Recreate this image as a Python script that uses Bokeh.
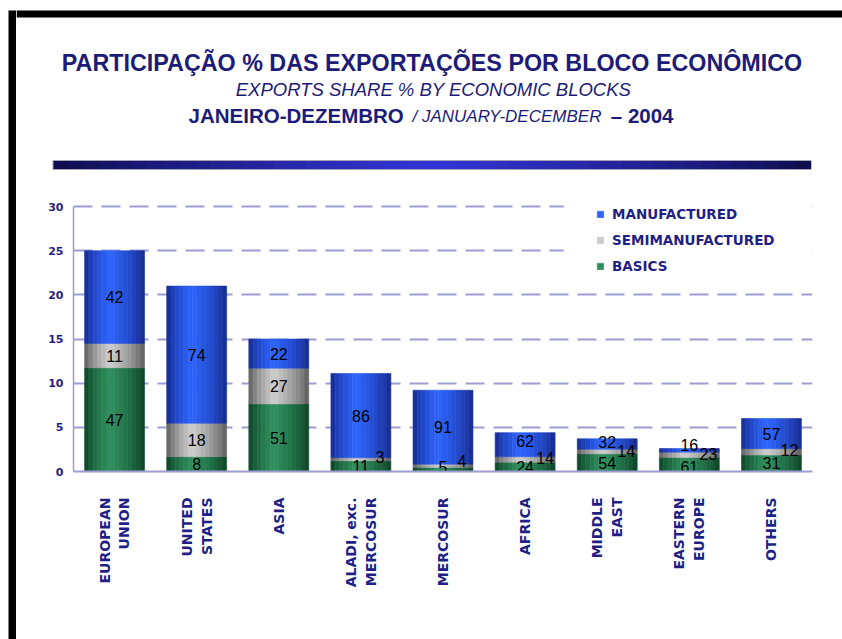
from math import pi
from bokeh.plotting import figure
from bokeh.layouts import column, row
from bokeh.models import (Range1d, Label, BoxAnnotation, Legend, LegendItem,
                          ColumnDataSource, FixedTicker)
from bokeh.transform import dodge
from bokeh.embed import file_html
from bokeh.resources import INLINE
from bokeh.core.properties import value

# ---------------- data ----------------
blocks = ["EUROPEAN UNION", "UNITED STATES", "ASIA", "ALADI, exc. MERCOSUR", "MERCOSUR",
          "AFRICA", "MIDDLE EAST", "EASTERN EUROPE", "OTHERS"]
tick_lines = [["EUROPEAN", "UNION"], ["UNITED", "STATES"], ["ASIA"], ["ALADI, exc.", "MERCOSUR"],
              ["MERCOSUR"], ["AFRICA"], ["MIDDLE", "EAST"], ["EASTERN", "EUROPE"], ["OTHERS"]]
total_share = [25.0, 21.0, 15.0, 11.1, 9.2, 4.4, 3.7, 2.6, 6.0]   # % of total exports
basics_pct = [47, 8, 51, 11, 5, 24, 54, 61, 31]
semi_pct = [11, 18, 27, 3, 4, 14, 14, 23, 12]
manuf_pct = [42, 74, 22, 86, 91, 62, 32, 16, 57]
series_names = ["MANUFACTURED", "SEMIMANUFACTURED", "BASICS"]
y_ticks = [0, 5, 10, 15, 20, 25, 30]

title1 = "PARTICIPAÇÃO % DAS EXPORTAÇÕES POR BLOCO ECONÔMICO"
title2 = "EXPORTS SHARE % BY ECONOMIC BLOCKS"
title3a = "JANEIRO-DEZEMBRO"
title3b = "/ JANUARY-DECEMBER"
title3c = "– 2004"

# ---------------- styles ----------------
NAVY = "#1c1c78"
AXIS_NAVY = "#1f1f86"
LAVENDER = "#9d9dd4"
FONT = "Liberation Sans"
TICK_FONT = "DejaVu Sans"
LINE_SEP = 0.24   # category units between the two lines of a tick label
# label nudges in pixels (x, y) per series, per block
nudge_basics = [(0, 0), (0, 0), (0, 0), (0, 0), (0, -2), (0, 0), (0, 0), (0, 3), (0, 0)]
nudge_semi = [(0, 0), (0, 0), (0, 0), (19, -2), (19, -5), (20, -1), (19, -1), (19, -1), (18, -2)]
nudge_manuf = [(0, 0), (0, 0), (0, 0), (0, 0), (0, 0), (0, -4), (0, -2), (0, -5), (0, 0)]

TOT_W, TOT_H = 842, 639
LEFT_W = 16                 # white margin + black slide edge
HEAD_H = 190
FOOT_H = 2
BODY_H = 446
FRAME_TOP, FRAME_BOTTOM = 203, 471      # absolute page px of the plot frame
BT = FRAME_TOP - HEAD_H
BB = HEAD_H + BODY_H - FRAME_BOTTOM
RIGHT_W = TOT_W - LEFT_W


def grad(edge, center, n, peak=0.42, gamma=0.7):
    cols = []
    for i in range(n):
        t = (i + 0.5) / n
        d = abs(t - peak) / (peak if t < peak else 1 - peak)
        k = max(0.0, 1 - d) ** gamma
        c = tuple(int(round(e + (cc - e) * k)) for e, cc in zip(edge, center))
        cols.append("#%02x%02x%02x" % c)
    return cols


def pixel_fig(w, hgt, x_start=0):
    f = figure(width=w, height=hgt, output_backend="svg", toolbar_location=None,
               x_range=Range1d(x_start, x_start + w), y_range=Range1d(hgt, 0),
               x_axis_type=None, y_axis_type=None)
    f.min_border_left = f.min_border_right = f.min_border_top = f.min_border_bottom = 0
    f.outline_line_color = None
    f.grid.visible = False
    f.background_fill_color = "white"
    f.border_fill_color = "white"
    return f


# ================= left slide edge (full height) =================
edge = pixel_fig(LEFT_W, TOT_H)
edge.add_layout(BoxAnnotation(left=8, right=LEFT_W, top=10, bottom=TOT_H, fill_color="black",
                              fill_alpha=1, line_color=None))

# ================= header figure (absolute page px) =================
h = pixel_fig(RIGHT_W, HEAD_H, x_start=LEFT_W)
h.add_layout(BoxAnnotation(left=LEFT_W, right=TOT_W, top=10, bottom=17, fill_color="black",
                           fill_alpha=1, line_color=None))
NB = 48
hb = grad((12, 12, 72), (52, 52, 215), NB, peak=0.5, gamma=0.8)
x0, x1 = 53, 810
seg = (x1 - x0) / NB
h.add_layout(BoxAnnotation(left=x0 - 1, right=x1 + 1, top=159.5, bottom=169.5,
                           fill_color="#a4a4b4", fill_alpha=1, line_color=None))
for i in range(NB):
    h.add_layout(BoxAnnotation(left=x0 + i * seg, right=x0 + (i + 1) * seg + 0.6,
                               top=160.5, bottom=168.5, fill_color=hb[i], fill_alpha=1,
                               line_color=None))

h.add_layout(Label(x=431.5, y=62, text=title1, text_font=FONT, text_font_style="bold",
                   text_font_size="23.3px", text_color=NAVY, text_align="center",
                   text_baseline="middle"))
h.add_layout(Label(x=433, y=89, text=title2, text_font=FONT, text_font_style="italic",
                   text_font_size="18.5px", text_color=NAVY, text_align="center",
                   text_baseline="middle"))
h.add_layout(Label(x=188, y=114.7, text=title3a, text_font=FONT, text_font_style="bold",
                   text_font_size="20.5px", text_color=NAVY, text_align="left",
                   text_baseline="middle"))
h.add_layout(Label(x=412, y=115.5, text=title3b, text_font=FONT, text_font_style="italic",
                   text_font_size="17px", text_color=NAVY, text_align="left",
                   text_baseline="middle"))
h.add_layout(Label(x=673, y=114.7, text=title3c, text_font=FONT, text_font_style="bold",
                   text_font_size="20.5px", text_color=NAVY, text_align="right",
                   text_baseline="middle"))

# ================= chart figure =================
n = len(blocks)
idx = list(range(n))
p = figure(width=RIGHT_W, height=BODY_H, output_backend="svg", toolbar_location=None,
           x_range=Range1d(-0.5, n - 0.5), y_range=Range1d(0, 30.35),
           min_border_left=73 - LEFT_W, min_border_right=30,
           min_border_top=BT, min_border_bottom=BB)
p.outline_line_color = None
p.background_fill_color = "white"
p.border_fill_color = "white"

b_h = [t * v / 100 for t, v in zip(total_share, basics_pct)]
s_h = [t * v / 100 for t, v in zip(total_share, semi_pct)]
m_h = [t * v / 100 for t, v in zip(total_share, manuf_pct)]
b_top = b_h
s_top = [a + b for a, b in zip(b_h, s_h)]
m_top = [a + b for a, b in zip(s_top, m_h)]

src = ColumnDataSource(dict(i=idx, block=blocks, b0=[0] * n, b1=b_top, s1=s_top, m1=m_top))

N = 14
BAR_W = 0.73
sw = BAR_W / N
blue_cols = grad((20, 38, 135), (46, 102, 255), N)
gray_cols = grad((85, 85, 85), (208, 208, 208), N)
green_cols = grad((10, 62, 34), (48, 146, 96), N)

rep = {}
for k in range(N):
    off = -BAR_W / 2 + (k + 0.5) * sw
    xx = dodge("i", off)
    rg = p.vbar(x=xx, bottom="b0", top="b1", width=sw, source=src,
                fill_color=green_cols[k], line_color=green_cols[k], line_width=0.6)
    rs = p.vbar(x=xx, bottom="b1", top="s1", width=sw, source=src,
                fill_color=gray_cols[k], line_color=gray_cols[k], line_width=0.6)
    rb = p.vbar(x=xx, bottom="s1", top="m1", width=sw, source=src,
                fill_color=blue_cols[k], line_color=blue_cols[k], line_width=0.6)
    if k == int(N * 0.42):
        rep = {"BASICS": rg, "SEMIMANUFACTURED": rs, "MANUFACTURED": rb}

# data labels
lab_x, lab_y, lab_t, lab_dx, lab_dy = [], [], [], [], []
for j in idx:
    for bot, top, pct, ng in ((0, b_top[j], basics_pct[j], nudge_basics[j]),
                              (b_top[j], s_top[j], semi_pct[j], nudge_semi[j]),
                              (s_top[j], m_top[j], manuf_pct[j], nudge_manuf[j])):
        lab_x.append(j)
        lab_y.append((bot + top) / 2)
        lab_t.append(str(pct))
        lab_dx.append(ng[0])
        lab_dy.append(ng[1])
lsrc = ColumnDataSource(dict(x=lab_x, y=lab_y, t=lab_t, dx=lab_dx, dy=lab_dy))
p.text(x="x", y="y", text="t", x_offset="dx", y_offset="dy", source=lsrc,
       text_font=value(FONT), text_font_size="16px", text_color="black",
       text_align="center", text_baseline="middle")

# y axis
p.yaxis.ticker = FixedTicker(ticks=y_ticks)
p.yaxis.bounds = (0, 30)
p.yaxis.major_tick_line_color = None
p.yaxis.minor_tick_line_color = None
p.yaxis.major_tick_out = 0
p.yaxis.minor_tick_out = 0
p.yaxis.axis_line_color = LAVENDER
p.yaxis.axis_line_width = 1.5
p.yaxis.major_label_standoff = 10
p.yaxis.major_label_text_font = TICK_FONT
p.yaxis.major_label_text_font_style = "bold"
p.yaxis.major_label_text_font_size = "11px"
p.yaxis.major_label_text_color = AXIS_NAVY

# x axis: one tick per label line, so two-line names sit side by side
xt, xo = [], {}
for j, lines in zip(idx, tick_lines):
    m = len(lines)
    for q, txt in enumerate(lines):
        pos = round(j + (q - (m - 1) / 2) * LINE_SEP, 4)
        xt.append(pos)
        xo[pos] = txt
p.xaxis.ticker = FixedTicker(ticks=xt)
p.xaxis.major_label_overrides = xo
p.xaxis.major_label_orientation = pi / 2
p.xaxis.major_tick_line_color = None
p.xaxis.minor_tick_line_color = None
p.xaxis.axis_line_color = LAVENDER
p.xaxis.axis_line_width = 2
p.xaxis.major_label_standoff = 20
p.xaxis.major_label_text_font = TICK_FONT
p.xaxis.major_label_text_font_style = "bold"
p.xaxis.major_label_text_font_size = "14px"
p.xaxis.major_label_text_color = AXIS_NAVY

p.xgrid.grid_line_color = None
p.ygrid.ticker = FixedTicker(ticks=y_ticks[1:])
p.ygrid.grid_line_color = LAVENDER
p.ygrid.grid_line_width = 2
p.ygrid.grid_line_dash = "19 9"

# white patch behind legend (hides the grid lines there)
p.add_layout(BoxAnnotation(left=5.47, bottom=21.0, fill_color="white", fill_alpha=1.0,
                           line_color=None, level="underlay"))

legend = Legend(items=[LegendItem(label=nm, renderers=[rep[nm]]) for nm in series_names],
                location=(523, 197), padding=2, spacing=10, label_height=14,
                glyph_width=8, glyph_height=8, label_standoff=8,
                label_text_font=TICK_FONT, label_text_font_style="bold",
                label_text_font_size="13.5px", label_text_color=AXIS_NAVY,
                background_fill_alpha=0, border_line_color=None)
p.add_layout(legend)

# ================= footer (thin grey edge of the slide) =================
foot = pixel_fig(RIGHT_W, FOOT_H)
foot.background_fill_color = "#d4d4d4"
foot.border_fill_color = "#d4d4d4"

# nested rows keep the figures from having their frames aligned to each other
layout = row(edge, column(h, row(p, spacing=0), row(foot, spacing=0), spacing=0), spacing=0)
open("out.html", "w").write(file_html(layout, INLINE))
